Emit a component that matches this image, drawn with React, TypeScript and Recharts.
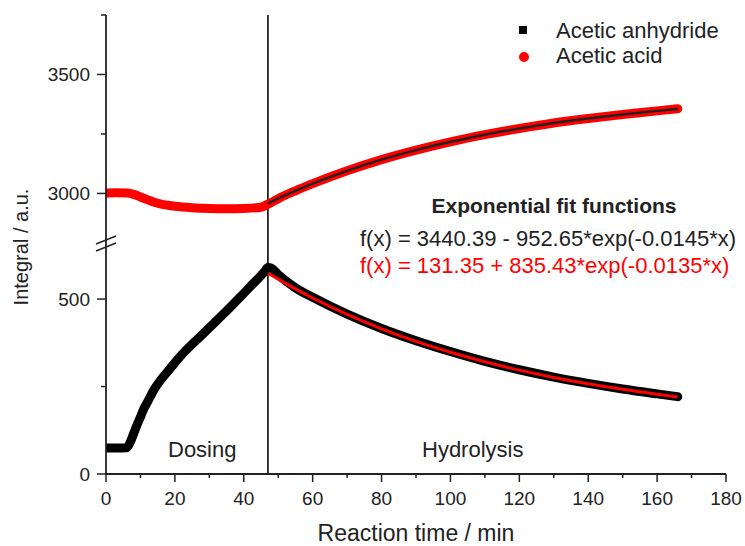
import React from "react";
import { ComposedChart, Line, XAxis, YAxis, ReferenceLine } from "recharts";

const FONT = '"Liberation Sans", Arial, Helvetica, sans-serif';
const INK = "#222";
const RED = "#ff0000";

// reaction time (min) and integrals
const anhydrideTime = [0, 3, 6, 7, 8, 9, 10, 11, 12, 14, 16, 18, 20, 22, 25, 28, 30, 33, 36, 39, 42, 44, 46, 47, 48, 50, 55, 60, 70, 80, 90, 100, 110, 120, 130, 140, 150, 160, 166];
const anhydrideValue = [74, 74, 75, 90, 115, 140, 163, 187, 205, 242, 270, 294, 318, 341, 371, 399, 418, 447, 476, 506, 537, 557, 578, 590, 588, 570, 532, 505, 457, 416, 381, 350, 322, 298, 277, 259, 243, 229, 221];

const acidTime = [0, 3, 6, 7, 8, 9, 10, 12, 14, 16, 18, 20, 25, 30, 35, 40, 45, 47, 48, 50, 55, 60, 70, 80, 90, 100, 110, 120, 130, 140, 150, 160, 166];
const acidValue = [3002, 3003, 3002, 3000, 2996, 2991, 2985, 2974, 2963, 2955, 2950, 2946, 2940, 2937, 2936, 2937, 2942, 2955, 2962, 2978, 3011, 3041, 3095, 3142, 3182, 3217, 3247, 3273, 3296, 3315, 3332, 3347, 3356];

// exponential fits, hydrolysis part
const fitTime = [47, 50, 55, 60, 70, 80, 90, 100, 110, 120, 130, 140, 150, 160, 166];
const acidFitValue = [2958, 2979, 3011, 3041, 3095, 3142, 3182, 3217, 3247, 3273, 3296, 3315, 3332, 3347, 3355];
const anhydrideFitValue = [574, 557, 529, 503, 456, 415, 379, 348, 321, 297, 276, 258, 242, 228, 220];

const X_TICKS = [0, 10, 20, 30, 40, 50, 60, 70, 80, 90, 100, 110, 120, 130, 140, 150, 160, 170, 180];
const X_LABELS = [0, 20, 40, 60, 80, 100, 120, 140, 160, 180];
const UPPER_TICKS = [3000, 3250, 3500, 3750];
const UPPER_LABELS = [3000, 3500];
const LOWER_TICKS = [0, 250, 500];
const LOWER_LABELS = [0, 500];

const DOSING_END = 47;

const toPoints = (ts: number[], vs: number[]) => ts.map((t, i) => ({ t, v: vs[i] }));

const anhydride = toPoints(anhydrideTime, anhydrideValue);
const acid = toPoints(acidTime, acidValue);
const acidFit = toPoints(fitTime, acidFitValue);
const anhydrideFit = toPoints(fitTime, anhydrideFitValue);

const W = 745;
const H = 546;
const BREAK_Y = 241;
const axisStyle = { stroke: INK, strokeWidth: 1.8 };

const yTick = (labels: number[]) => (props: any) => {
  const { x, y, payload } = props;
  const major = labels.includes(payload.value);
  return (
    <g>
      <line x1={x - (major ? 9 : 5)} x2={x} y1={y} y2={y} stroke={INK} strokeWidth={1.5} />
      {major && (
        <text x={x - 16} y={y} dy="0.36em" textAnchor="end" fontSize={19} fill={INK} fontFamily={FONT}>
          {payload.value}
        </text>
      )}
    </g>
  );
};

const xTick = (props: any) => {
  const { x, y, payload } = props;
  const major = X_LABELS.includes(payload.value);
  return (
    <g>
      <line x1={x} x2={x} y1={y} y2={y + (major ? 8 : 4)} stroke={INK} strokeWidth={1.5} />
      {major && (
        <text x={x} y={y + 31} textAnchor="middle" fontSize={19} fill={INK} fontFamily={FONT}>
          {payload.value}
        </text>
      )}
    </g>
  );
};

const App: React.FC = () => {
  return (
    <div style={{ position: "absolute", left: 0, top: 0, width: W, height: H, background: "#fff" }}>
      {/* upper segment: acetic acid */}
      <div style={{ position: "absolute", left: 0, top: 0 }}>
        <ComposedChart width={W} height={BREAK_Y} margin={{ top: 15, right: 19, bottom: 0, left: 0 }}>
          <XAxis type="number" dataKey="t" domain={[0, 180]} hide allowDataOverflow />
          <YAxis
            type="number"
            domain={[2800, 3750]}
            ticks={UPPER_TICKS}
            interval={0}
            width={106}
            tickSize={0}
            tickMargin={0}
            axisLine={axisStyle}
            tickLine={false}
            tick={yTick(UPPER_LABELS)}
            allowDataOverflow
          />
          <ReferenceLine x={DOSING_END} stroke={INK} strokeWidth={1.8} />
          <Line data={acid} dataKey="v" type="monotone" stroke={RED} strokeWidth={9} strokeLinecap="round" dot={false} isAnimationActive={false} />
          <Line data={acidFit} dataKey="v" type="monotone" stroke={INK} strokeWidth={2.5} dot={false} isAnimationActive={false} />
        </ComposedChart>
      </div>

      {/* lower segment: acetic anhydride */}
      <div style={{ position: "absolute", left: 0, top: BREAK_Y }}>
        <ComposedChart width={W} height={H - BREAK_Y} margin={{ top: 0, right: 19, bottom: 0, left: 0 }}>
          <XAxis
            type="number"
            dataKey="t"
            domain={[0, 180]}
            ticks={X_TICKS}
            interval={0}
            height={72}
            tickSize={0}
            tickMargin={0}
            axisLine={axisStyle}
            tickLine={false}
            tick={xTick}
            allowDataOverflow
          />
          <YAxis
            type="number"
            domain={[0, 666]}
            ticks={LOWER_TICKS}
            interval={0}
            width={106}
            tickSize={0}
            tickMargin={0}
            axisLine={axisStyle}
            tickLine={false}
            tick={yTick(LOWER_LABELS)}
            allowDataOverflow
          />
          <ReferenceLine x={DOSING_END} stroke={INK} strokeWidth={1.8} />
          <Line data={anhydride} dataKey="v" type="monotone" stroke="#000" strokeWidth={9} strokeLinecap="round" dot={false} isAnimationActive={false} />
          <Line data={anhydrideFit} dataKey="v" type="monotone" stroke={RED} strokeWidth={3} dot={false} isAnimationActive={false} />
        </ComposedChart>
      </div>

      {/* labels, legend, axis break */}
      <svg width={W} height={H} style={{ position: "absolute", left: 0, top: 0, pointerEvents: "none" }} fontFamily={FONT}>
        <line x1={96} y1={244} x2={116} y2={236} stroke={INK} strokeWidth={1.5} />
        <line x1={96} y1={251} x2={116} y2={243} stroke={INK} strokeWidth={1.5} />

        <rect x={519} y={26} width={8} height={8} fill="#000" />
        <text x={556} y={38} fontSize={22} fill={INK}>Acetic anhydride</text>
        <circle cx={524} cy={57} r={5} fill={RED} />
        <text x={556} y={63} fontSize={22} fill={INK}>Acetic acid</text>

        <text x={554} y={213} fontSize={21} fontWeight="bold" textAnchor="middle" fill={INK}>
          Exponential fit functions
        </text>
        <text x={360} y={246} fontSize={22} fill={INK}>f(x) = 3440.39 - 952.65*exp(-0.0145*x)</text>
        <text x={360} y={273} fontSize={22} fill={RED}>f(x) = 131.35 + 835.43*exp(-0.0135*x)</text>

        <text x={168} y={457} fontSize={22} fill={INK}>Dosing</text>
        <text x={422} y={457} fontSize={22} fill={INK}>Hydrolysis</text>

        <text x={416} y={541} fontSize={23} textAnchor="middle" fill={INK}>Reaction time / min</text>
        <text x={28} y={247} fontSize={20} textAnchor="middle" fill={INK} transform="rotate(-90 28 247)">
          Integral / a.u.
        </text>
      </svg>
    </div>
  );
};

export default App;
